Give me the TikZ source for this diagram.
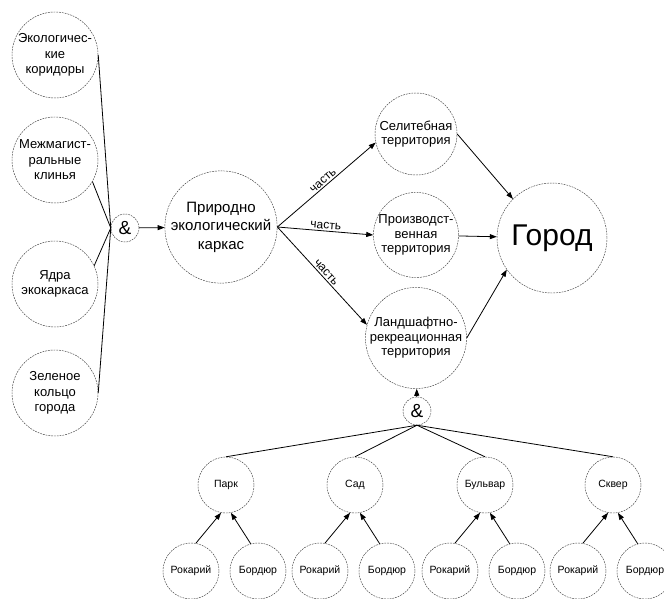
\documentclass[tikz,border=0pt]{standalone}
\usepackage{fontspec}
\setmainfont{Liberation Sans}
\usetikzlibrary{positioning,arrows.meta}
\tikzset{
bigconcept/.style={
draw=black!75,
circle,
dash pattern=on 1.8pt off 1pt,
line width=0.45pt,
inner sep=0pt,
minimum size=86pt,
align=center,
font=\fontsize{13}{15.5}\selectfont
},
hub/.style={
bigconcept,
minimum size=108pt,
font=\fontsize{15}{18.5}\selectfont
},
zone/.style={
bigconcept,
minimum size=82pt,
font=\fontsize{13}{14.5}\selectfont
},
city/.style={
bigconcept,
minimum size=110pt,
font=\fontsize{30}{34}\selectfont
},
andnode/.style={
bigconcept,
minimum size=28pt,
font=\fontsize{19}{22}\selectfont
},
leaf/.style={
bigconcept,
minimum size=56pt,
font=\fontsize{10.5}{12}\selectfont
},
link/.style={
line width=0.8pt
},
arrow/.style={
link,
-{Triangle[length=7pt,width=5pt]}
},
partlabel/.style={
sloped,
above,
inner sep=1.5pt,
font=\fontsize{12}{14}\selectfont
}
}

\begin{document}
\begin{tikzpicture}[x=1pt,y=1pt]
\useasboundingbox[fill=white](0,0) rectangle (664,-599);

% left column and the first junction
\node[bigconcept](corr) at (55,-55){Экологичес-\\кие\\коридоры};
\node[bigconcept](wedge) at (55,-160){Межмагист-\\ральные\\клинья};
\node[bigconcept](core) at (55,-284){Ядра\\экокаркаса};
\node[bigconcept](ring) at (55,-393){Зеленое\\кольцо\\города};
\node[andnode](and1) at (125,-228){\&};

% middle part
\node[hub](frame) at (221,-227){Природно\\экологический\\каркас};
\node[zone](resid) at (416,-134){Селитебная\\территория};
\node[zone](indust) at (416,-235){Производст-\\венная\\территория};
\node[zone](recr) at (416,-338){Ландшафтно-\\рекреационная\\территория};
\node[city](city) at (552,-238){Город};
\node[andnode](and2) at (417,-411){\&};

% green objects and their elements
\foreach \n/\t/\x in {park/Парк/226,sad/Сад/355,blv/Бульвар/485,skv/Сквер/613}{
\node[leaf](\n) at (\x,-485){\t};
\node[leaf](\n-r) at (\x-35,-571){Рокарий};
\node[leaf](\n-b) at (\x+32,-571){Бордюр};
}

\draw[link](corr.east)--(and1.west);
\draw[link](wedge.-30)--(and1.west);
\draw[link](core.25)--(and1.west);
\draw[link](ring.east)--(and1.west);
\draw[arrow](and1)--(frame);

\draw[arrow](frame.east)--node[partlabel]{часть}(resid.192);
\draw[arrow](frame.east)--node[partlabel]{часть}(indust.west);
\draw[arrow](frame.east)--node[partlabel]{часть}(recr.165);

\draw[arrow](resid.east)--(city.135);
\draw[arrow](indust)--(city);
\draw[arrow](recr.east)--(city.-145);
\draw[arrow](and2)--(recr);

\foreach \n in {park,sad,blv,skv}{
\draw[link](and2.south)--(\n.north);
\draw[arrow](\n-r.80)--(\n.-100);
\draw[arrow](\n-b.105)--(\n.-80);
}
\end{tikzpicture}
\end{document}
